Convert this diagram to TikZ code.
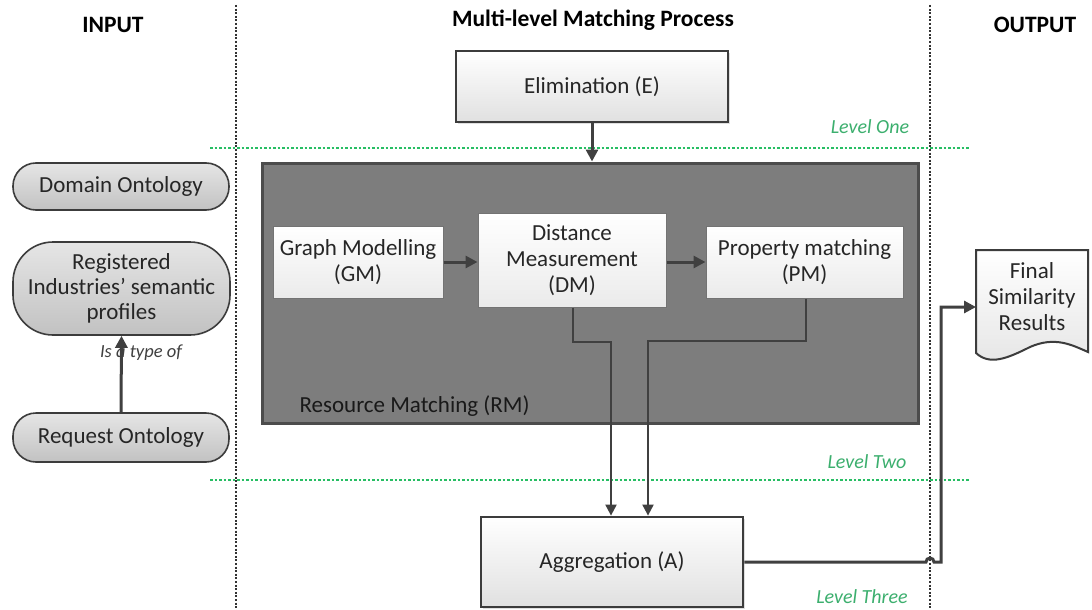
\documentclass[tikz,border=0pt]{standalone}
\usepackage{fontspec}
\setmainfont{Carlito}
\usetikzlibrary{arrows.meta,shadows}

\definecolor{lineclr}{RGB}{64,64,64}
\definecolor{boxedge}{RGB}{60,60,60}
\definecolor{lvl}{RGB}{60,175,110}
\definecolor{lvlline}{RGB}{40,190,100}
\definecolor{rmfill}{RGB}{125,125,125}

\tikzset{
  txt/.style={font=\fontsize{23}{26}\selectfont, text=black!85},
  head/.style={font=\fontsize{23.5}{26}\selectfont\bfseries, text=black},
  lvltext/.style={font=\fontsize{20}{23}\selectfont\itshape, text=lvl},
  procbox/.style={draw=boxedge, line width=2.8pt, top color=white, bottom color=black!12,
    align=center, txt, inner sep=0pt, drop shadow={shadow xshift=2pt, shadow yshift=-2pt, opacity=0.25}},
  innerbox/.style={draw=black!55, line width=1pt, top color=white, bottom color=black!8,
    align=center, txt, inner sep=0pt, drop shadow={shadow xshift=2pt, shadow yshift=-2pt, opacity=0.35}},
  ontobox/.style={draw=boxedge, line width=1.6pt, top color=black!10, bottom color=black!24,
    align=center, txt, inner sep=0pt},
  sepline/.style={draw=black!80, line width=1.3pt, dash pattern=on 2pt off 1.6pt},
  lvlsep/.style={draw=lvlline, line width=1.5pt, dash pattern=on 2.5pt off 2pt},
  flow/.style={draw=lineclr, line width=3pt, -{Triangle[length=12pt,width=12pt]}},
  thinflow/.style={draw=lineclr, line width=2pt, -{Triangle[length=11pt,width=11pt]}},
}

\begin{document}
\begin{tikzpicture}[x=1pt,y=-1pt]
\useasboundingbox[fill=white] (0,0) rectangle (1092,610);

% column headers
\node[head] (hin)  at (113,25) {INPUT};
\node[head] (hmid) at (593,20) {Multi-level Matching Process};
\node[head] (hout) at (1035,25) {OUTPUT};

% column separators
\coordinate (sepAtop) at (236,5);  \coordinate (sepAbot) at (236,610);
\coordinate (sepBtop) at (930,5);  \coordinate (sepBbot) at (930,610);
\draw[sepline] (sepAtop) -- (sepAbot);
\draw[sepline] (sepBtop) -- (sepBbot);

% level separators
\coordinate (l1a) at (210,148); \coordinate (l1b) at (970,148);
\coordinate (l2a) at (210,480); \coordinate (l2b) at (970,480);
\draw[lvlsep] (l1a) -- (l1b);
\draw[lvlsep] (l2a) -- (l2b);
\node[lvltext] (lv1) at (870,127) {Level One};
\node[lvltext] (lv2) at (867,462) {Level Two};
\node[lvltext] (lv3) at (862,597) {Level Three};

% input column
\node[ontobox, rounded corners=23pt, minimum width=216pt, minimum height=47pt] (dom) at (121,186.5) {Domain Ontology};
\node[ontobox, rounded corners=40pt, minimum width=217pt, minimum height=93pt] (reg) at (121.5,288.5)
  {Registered\\[-1pt]Industries’ semantic\\[-1pt]profiles};
\node[ontobox, rounded corners=23pt, minimum width=216pt, minimum height=49pt] (req) at (121,437.5) {Request Ontology};
\node[font=\fontsize{18.5}{21}\selectfont\itshape, text=black!75] (isa) at (141,353) {Is a type of};
\draw[flow] (req.north) -- (reg.south);

% elimination
\node[procbox, minimum width=272pt, minimum height=71pt] (elim) at (592,86.5) {Elimination (E)};

% resource matching container
\node[draw=black!70, line width=3pt, fill=rmfill, minimum width=656pt, minimum height=260pt, inner sep=0pt,
  drop shadow={shadow xshift=2pt, shadow yshift=-2pt, opacity=0.3}] (rm) at (590,293) {};
\node[txt, anchor=west, text=black!90] (rmlabel) at (296,406) {Resource Matching (RM)};

\node[innerbox, minimum width=170pt, minimum height=72pt] (gm) at (358,262) {Graph Modelling\\(GM)};
\node[innerbox, minimum width=188pt, minimum height=94pt] (dm) at (572,260) {Distance\\Measurement\\(DM)};
\node[innerbox, minimum width=197pt, minimum height=72pt] (pm) at (804.5,262) {Property matching\\(PM)};

\draw[flow] (elim.south) -- (rm.north -| elim.south);
\draw[flow] (gm.east) -- (dm.west |- gm.east);
\draw[flow] (dm.east |- pm.west) -- (pm.west);

% aggregation
\node[procbox, minimum width=262pt, minimum height=90pt] (agg) at (612,562) {Aggregation (A)};

\coordinate (dmjog) at (573,342);
\coordinate (pmjog) at (806,341);
\draw[thinflow] (dm.south -| dmjog) -- (dmjog) -| (agg.north -| 611,0);
\draw[thinflow] (pm.south -| pmjog) -- (pmjog) -| (agg.north -| 648,0);

% output
\coordinate (dA) at (976,250);
\coordinate (dB) at (1088,250);
\draw[draw=boxedge, line width=2pt, top color=white, bottom color=black!10]
  (dA) -- (dB) -- (1088,352)
  .. controls (1072,345) and (1055,336) .. (1030,347)
  .. controls (1008,358) and (990,366) .. (976,353) -- cycle;
\node[txt, align=center] (fin) at (1032,297) {Final\\[0pt]Similarity\\[0pt]Results};
\coordinate (finin) at (976,307);

\coordinate (hopL) at (926,562);
\coordinate (up) at (941,562);
\draw[flow] (agg.east) -- (hopL) arc (180:360:4) -- (up) |- (finin);

\end{tikzpicture}
\end{document}
